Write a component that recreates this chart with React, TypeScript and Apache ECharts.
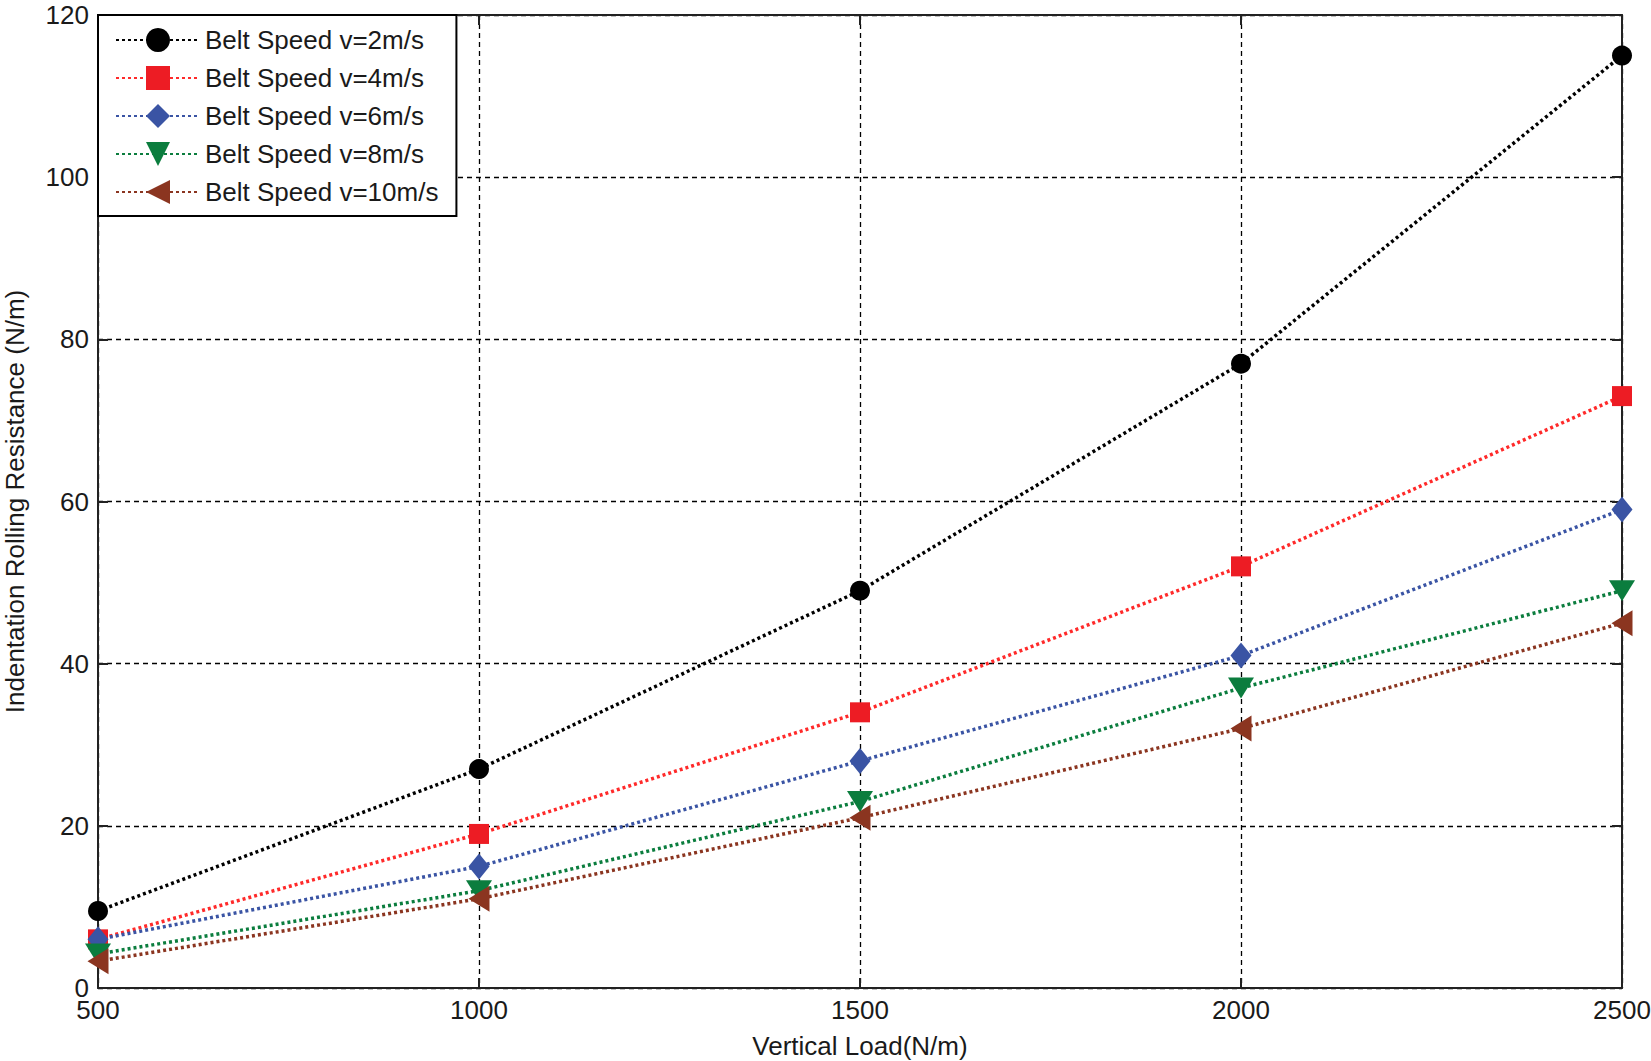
import React, { useEffect, useRef } from "react";
import * as echarts from "echarts";

const loads = [500, 1000, 1500, 2000, 2500];
const v2 = [9.5, 27, 49, 77, 115];
const v4 = [6, 19, 34, 52, 73];
const v6 = [6, 15, 28, 41, 59];
const v8 = [4.2, 12, 23, 37, 49];
const v10 = [3.3, 11, 21, 32, 45];
const seriesNames = [
  "Belt Speed v=2m/s",
  "Belt Speed v=4m/s",
  "Belt Speed v=6m/s",
  "Belt Speed v=8m/s",
  "Belt Speed v=10m/s",
];

const FONT = "'Liberation Sans', Arial, sans-serif";

export default function App() {
  const ref = useRef<HTMLDivElement>(null);
  useEffect(() => {
    document.body.style.margin = "0";
    const chart = echarts.init(ref.current!, null, { renderer: "svg" });
    const pair = (ys: number[]) => loads.map((x, i) => [x, ys[i]]);
    const mk = (
      name: string,
      ys: number[],
      lineColor: string,
      markColor: string,
      symbol: string,
      size: number | number[]
    ) => ({
      name,
      type: "line",
      data: pair(ys),
      symbol,
      symbolSize: size,
      showSymbol: true,
      lineStyle: { color: lineColor, width: 3.5, type: [3, 3] },
      itemStyle: { color: markColor, borderWidth: 0 },
      z: 3,
    });
    const gridLine = { show: true, lineStyle: { color: "#000", width: 1.3, type: [5, 4] } };
    const axisText = { color: "#1a1a1a", fontSize: 26, fontFamily: FONT, lineHeight: 26 };
    chart.setOption({
      animation: false,
      backgroundColor: "#fff",
      grid: {
        left: 98,
        right: 29,
        top: 15,
        bottom: 73,
        containLabel: false,
        outerBoundsMode: "none",
        show: false,
      },
      legend: {
        orient: "vertical",
        left: 98,
        top: 15,
        padding: [12, 18, 11, 17],
        itemWidth: 84,
        itemHeight: 30,
        itemGap: 12,
        backgroundColor: "#fff",
        borderColor: "#000",
        borderWidth: 2,
        borderRadius: 0,
        textStyle: { color: "#1a1a1a", fontSize: 26, fontFamily: FONT, lineHeight: 26 },
        data: seriesNames,
      },
      xAxis: [
        {
          type: "value",
          min: 500,
          max: 2500,
          interval: 500,
          name: "Vertical Load(N/m)",
          nameLocation: "middle",
          nameGap: 45,
          nameTextStyle: axisText,
          axisLine: { show: true, lineStyle: { color: "#222", width: 2 } },
          axisTick: { show: true, inside: true, length: 10, lineStyle: { color: "#222", width: 2 } },
          axisLabel: { ...axisText, margin: 9, formatter: (v: number) => String(v) },
          splitLine: gridLine,
        },
        {
          type: "value",
          position: "top",
          min: 500,
          max: 2500,
          interval: 500,
          axisLine: { show: true, onZero: false, lineStyle: { color: "#222", width: 2 } },
          axisTick: { show: true, inside: true, length: 10, lineStyle: { color: "#222", width: 2 } },
          axisLabel: { show: false },
          splitLine: { show: false },
        },
      ],
      yAxis: [
        {
          type: "value",
          min: 0,
          max: 120,
          interval: 20,
          name: "Indentation Rolling Resistance (N/m)",
          nameLocation: "middle",
          nameGap: 70,
          nameTextStyle: axisText,
          axisLine: { show: true, lineStyle: { color: "#222", width: 2 } },
          axisTick: { show: true, inside: true, length: 10, lineStyle: { color: "#222", width: 2 } },
          axisLabel: { ...axisText, margin: 9 },
          splitLine: gridLine,
        },
        {
          type: "value",
          position: "right",
          min: 0,
          max: 120,
          interval: 20,
          axisLine: { show: true, onZero: false, lineStyle: { color: "#222", width: 2 } },
          axisTick: { show: true, inside: true, length: 10, lineStyle: { color: "#222", width: 2 } },
          axisLabel: { show: false },
          splitLine: { show: false },
        },
      ],
      series: [
        mk(seriesNames[0], v2, "#000000", "#000000", "circle", 20),
        mk(seriesNames[1], v4, "#ff2a2a", "#ed1c24", "rect", 20),
        mk(seriesNames[2], v6, "#3a54a4", "#3a54a4", "diamond", [21, 26]),
        mk(seriesNames[3], v8, "#0b7d3e", "#0b7d3e", "path://M0,0 L2,0 L1,1.6 Z", [26, 21]),
        mk(seriesNames[4], v10, "#8b3520", "#8b3520", "path://M1.6,0 L1.6,2 L0,1 Z", [21, 26]),
      ],
    });
    return () => chart.dispose();
  }, []);
  return (
    <div
      ref={ref}
      style={{ position: "fixed", left: 0, top: 0, width: 1651, height: 1061 }}
    />
  );
}
